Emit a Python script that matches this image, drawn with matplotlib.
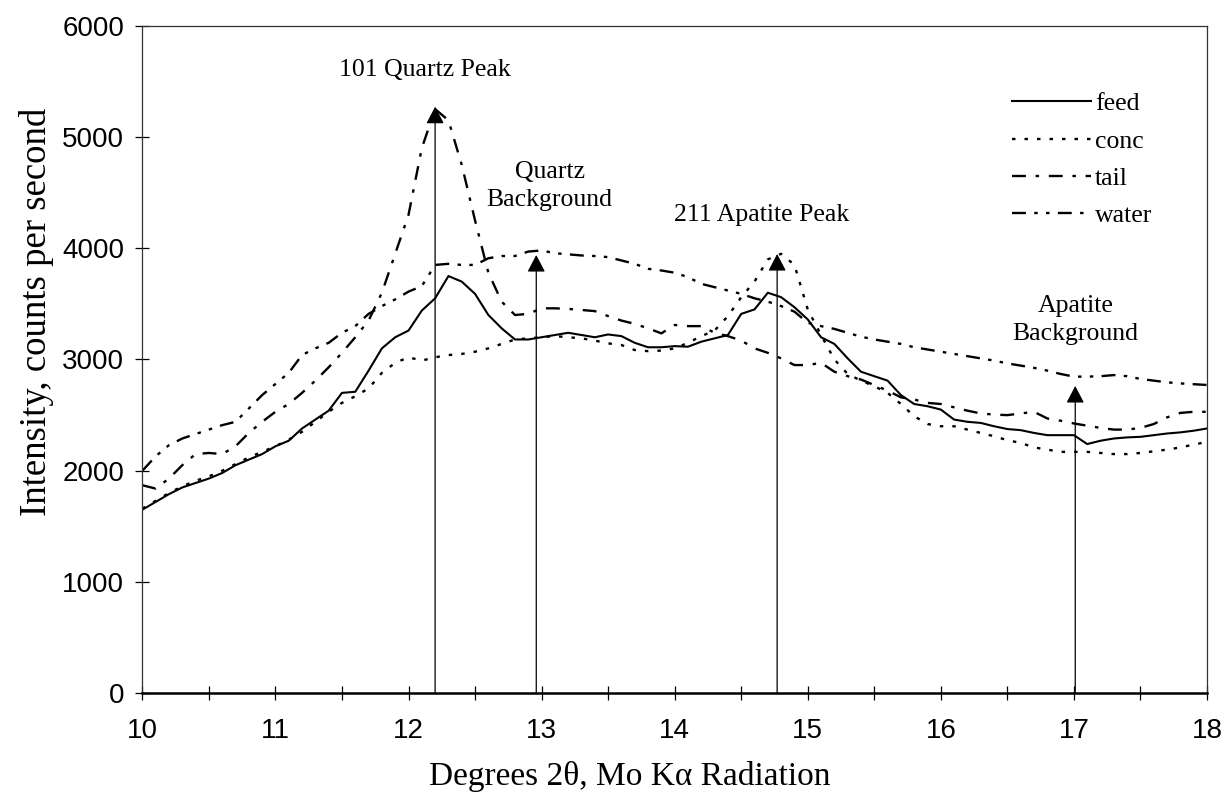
import matplotlib
matplotlib.use("Agg")
import matplotlib.pyplot as plt
import numpy as np

plt.rcParams['lines.scale_dashes'] = False

# 2-theta positions (degrees), 0.1 deg steps
theta = np.round(np.arange(10.0, 18.0001, 0.1), 1)

feed = [1650, 1720, 1790, 1850, 1890, 1930, 1980, 2050, 2100, 2150,
        2220, 2270, 2380, 2460, 2540, 2700, 2710, 2900, 3100, 3200,
        3260, 3440, 3550, 3750, 3700, 3590, 3400, 3280, 3180, 3180,
        3200, 3220, 3240, 3220, 3200, 3225, 3210, 3150, 3110, 3110,
        3120, 3115, 3160, 3190, 3220, 3410, 3450, 3600, 3560, 3470,
        3360, 3200, 3140, 3010, 2890, 2850, 2810, 2680, 2600, 2580,
        2550, 2460, 2440, 2430, 2400, 2375, 2365, 2340, 2320, 2320,
        2320, 2240, 2270, 2290, 2300, 2305, 2320, 2335, 2345, 2360,
        2380]

conc = [1660, 1730, 1800, 1860, 1910, 1950, 2000, 2060, 2120, 2170,
        2220, 2280, 2350, 2440, 2530, 2610, 2670, 2740, 2880, 2970,
        3020, 2990, 3020, 3040, 3050, 3070, 3100, 3140, 3180, 3190,
        3200, 3210, 3200, 3190, 3170, 3145, 3130, 3085, 3075, 3080,
        3100, 3150, 3210, 3260, 3390, 3560, 3700, 3900, 3950, 3850,
        3450, 3220, 3000, 2870, 2810, 2760, 2700, 2600, 2490, 2420,
        2400, 2400, 2370, 2340, 2310, 2275, 2250, 2210, 2190, 2170,
        2170, 2170, 2160, 2150, 2150, 2160, 2175, 2190, 2210, 2235,
        2260]

tail = [1870, 1840, 1930, 2050, 2150, 2160, 2150, 2220, 2340, 2440,
        2530, 2600, 2700, 2810, 2930, 3060, 3200, 3350, 3600, 3950,
        4300, 4900, 5250, 5150, 4750, 4250, 3780, 3520, 3400, 3410,
        3460, 3460, 3455, 3445, 3435, 3390, 3350, 3320, 3280, 3235,
        3310, 3300, 3300, 3240, 3210, 3170, 3100, 3060, 3010, 2950,
        2950, 2970, 2890, 2850, 2820, 2770, 2720, 2660, 2640, 2610,
        2600, 2570, 2540, 2515, 2505, 2500, 2515, 2530, 2470, 2450,
        2425, 2405, 2385, 2370, 2370, 2385, 2420, 2480, 2520, 2530,
        2530]

water = [2000, 2130, 2230, 2290, 2330, 2370, 2410, 2440, 2560, 2680,
         2780, 2880, 3040, 3100, 3150, 3240, 3300, 3410, 3480, 3540,
         3610, 3660, 3850, 3860, 3850, 3850, 3910, 3930, 3930, 3970,
         3980, 3955, 3945, 3935, 3930, 3920, 3890, 3860, 3815, 3800,
         3780, 3740, 3680, 3650, 3620, 3590, 3550, 3520, 3480, 3430,
         3330, 3300, 3275, 3240, 3205, 3180, 3160, 3140, 3110, 3090,
         3070, 3050, 3030, 3010, 2990, 2965, 2945, 2925, 2900, 2870,
         2846, 2846, 2850, 2860, 2850, 2825, 2810, 2795, 2785, 2778,
         2771]

# arrow markers and their notes
arrow_x = [12.2, 12.96, 14.77, 17.01]
arrow_tip = [5272, 3939, 3948, 2762]
note_text = ["101 Quartz Peak", "Quartz\nBackground", "211 Apatite Peak", "Apatite\nBackground"]
note_x = [12.12, 13.06, 14.65, 17.01]
note_y = [5600, 4560, 4298, 3355]

serif = 'Liberation Serif'
sans = 'Liberation Sans'

fig = plt.figure(figsize=(12.25, 7.98), dpi=100)
ax = fig.add_axes([0.1162, 0.1312, 0.8691, 0.8366])

ax.plot(theta, feed, color='black', lw=1.5, ls='-', label='feed')
ax.plot(theta, conc, color='black', lw=1.7, ls=(0, (2.5, 6.5)), label='conc')
ax.plot(theta, tail, color='black', lw=1.7, ls=(0, (10, 7, 2.5, 7)), label='tail')
ax.plot(theta, water, color='black', lw=1.7, ls=(0, (10, 6, 2.5, 6, 2.5, 6)), label='water')

for xa, ya in zip(arrow_x, arrow_tip):
    ax.annotate('', xy=(xa, ya), xytext=(xa, 0),
                arrowprops=dict(arrowstyle='-|>,head_length=1.05,head_width=0.55',
                                color='black', lw=0.9, shrinkA=0, shrinkB=0,
                                mutation_scale=10))

for t, tx, ty in zip(note_text, note_x, note_y):
    ax.text(tx, ty, t, ha='center', va='center', family=serif, fontsize=18.5,
            linespacing=1.4)

ax.set_xlim(10, 18)
ax.set_ylim(0, 6000)
ax.set_xticks(range(10, 19))
ax.set_xticks(np.arange(10.5, 18, 1.0), minor=True)
ax.set_yticks(range(0, 6001, 1000))
ax.tick_params(axis='both', which='both', direction='inout', length=10, width=0.9)
ax.tick_params(axis='x', pad=13)
ax.tick_params(axis='y', pad=8)
for lab in ax.get_xticklabels() + ax.get_yticklabels():
    lab.set_family(sans)
    lab.set_fontsize(20)

for s in ax.spines.values():
    s.set_linewidth(0.9)
    s.set_color('#333333')
ax.spines['bottom'].set_linewidth(1.8)
ax.spines['bottom'].set_color('black')

fig.text(0.514, 0.027, 'Degrees 2\u03b8, Mo K\u03b1 Radiation', ha='center', va='center',
         family=serif, fontsize=24)
fig.text(0.0294, 0.609, 'Intensity, counts per second', ha='center', va='center',
         rotation=90, family=serif, fontsize=26.5)

leg = ax.legend(loc='upper left', bbox_to_anchor=(0.8166, 0.90), frameon=False,
                handlelength=3.1, handletextpad=0.15, labelspacing=0.55,
                borderpad=0, borderaxespad=0, prop={'family': serif, 'size': 18.5})

fig.savefig('out.png', dpi=100)
